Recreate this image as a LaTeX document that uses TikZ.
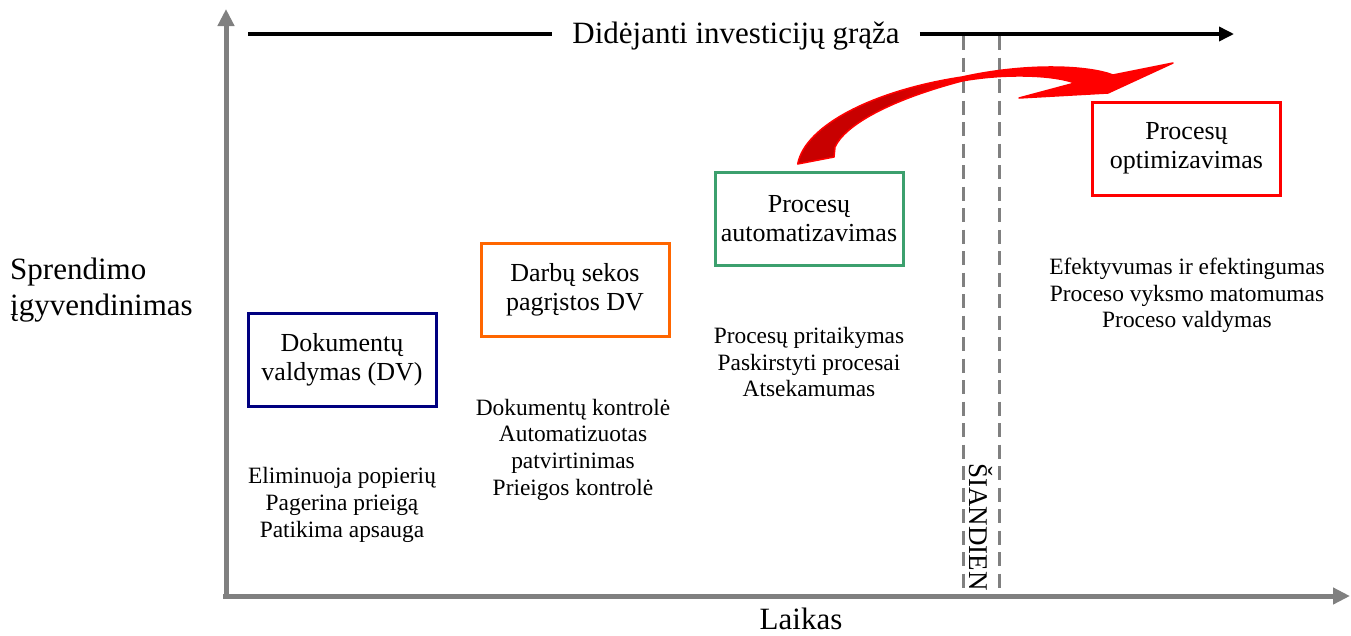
\documentclass[tikz,border=0pt]{standalone}
\usepackage{fontspec}
\setmainfont{Liberation Serif}
\usetikzlibrary{arrows.meta}
\definecolor{axisgray}{RGB}{128,128,128}
\definecolor{dvblue}{RGB}{0,0,128}
\definecolor{floworange}{RGB}{255,102,0}
\definecolor{autogreen}{RGB}{60,160,110}
\definecolor{optred}{RGB}{255,0,0}
\definecolor{swooshdark}{RGB}{200,0,0}

% outline of the curved red arrow
\newcommand\swooshoutline{(797.7,164) -- (834,157) -- (835,147)
  .. controls (845,125) and (890,100) .. (962,81)
  .. controls (1000,74) and (1050,74) .. (1075,83)
  -- (1019,98) -- (1108,93) -- (1173,63) -- (1113,75)
  .. controls (1090,66) and (1030,62) .. (962,77)
  .. controls (875,90) and (805,125) .. cycle}

\begin{document}
\begin{tikzpicture}[x=1pt,y=-1pt,
  stage/.style={draw,line width=3pt,minimum width=188pt,minimum height=93pt,
    inner sep=0pt,align=center,font=\fontsize{26}{29}\selectfont},
  benefit/.style={align=center,font=\fontsize{23.4}{26.7}\selectfont,inner sep=0pt},
  axis/.style={axisgray,line width=5pt,-{Triangle[length=17pt,width=16pt]}},
  todayline/.style={axisgray,line width=3pt,dash pattern=on 14pt off 7.5pt},
  biglabel/.style={font=\fontsize{31}{36}\selectfont,inner sep=0pt}]
\useasboundingbox (0,0) rectangle (1351,635);

% axes
\coordinate (ybase) at (226,599);
\coordinate (ytop) at (226,9);
\coordinate (xbase) at (223,596);
\coordinate (xend) at (1350,596);
\draw[axis] (ybase) -- (ytop);
\draw[axis] (xbase) -- (xend);

% "today" band
\coordinate (d1t) at (963,36);
\coordinate (d1b) at (963,595);
\coordinate (d2t) at (999,36);
\coordinate (d2b) at (999,595);
\draw[todayline] (d1t) -- (d1b);
\draw[todayline] (d2t) -- (d2b);
\node[rotate=-90,font=\fontsize{27}{30}\selectfont,inner sep=0pt] (today) at (981,527) {ŠIANDIEN};

% return-on-investment arrow
\node[biglabel,inner xsep=20pt] (title) at (736,36) {Didėjanti investicijų grąža};
\coordinate (ts) at (248,34);
\coordinate (te) at (1234,34);
\draw[line width=3.5pt] (ts) -- (title.west |- ts);
\draw[line width=3.5pt,-{Triangle[length=15pt,width=14pt]}] (title.east |- te) -- (te);

% axis labels
\node[biglabel,anchor=west,align=left] (ylabel) at (10,290) {Sprendimo\\įgyvendinimas};
\node[biglabel] (xlabel) at (801,619) {Laikas};

% stages
\node[stage,draw=dvblue] (dv) at (342,359.5) {Dokumentų\\valdymas (DV)};
\node[stage,draw=floworange] (flow) at (575,290) {Darbų sekos\\pagrįstos DV};
\node[stage,draw=autogreen] (auto) at (809,219) {Procesų\\automatizavimas};
\node[stage,draw=optred] (opt) at (1186.5,148.5) {Procesų\\optimizavimas};

% benefits
\node[benefit] (dvb) at (342,505) {Eliminuoja popierių\\Pagerina prieigą\\Patikima apsauga};
\node[benefit] (flowb) at (573,449.5) {Dokumentų kontrolė\\Automatizuotas\\patvirtinimas\\Prieigos kontrolė};
\node[benefit] (autob) at (809,362) {Procesų pritaikymas\\Paskirstyti procesai\\Atsekamumas};
\node[benefit] (optb) at (1187,295.5) {Efektyvumas ir efektingumas\\Proceso vyksmo matomumas\\Proceso valdymas};

% curved red arrow
\begin{scope}
  \clip \swooshoutline;
  \fill[optred] (780,50) rectangle (1180,170);
  \fill[swooshdark] (780,50) rectangle (890,170);
  \shade[left color=swooshdark,right color=optred] (890,50) rectangle (955,170);
\end{scope}
\draw[optred,line width=1.5pt,line join=round] \swooshoutline;
\end{tikzpicture}
\end{document}
